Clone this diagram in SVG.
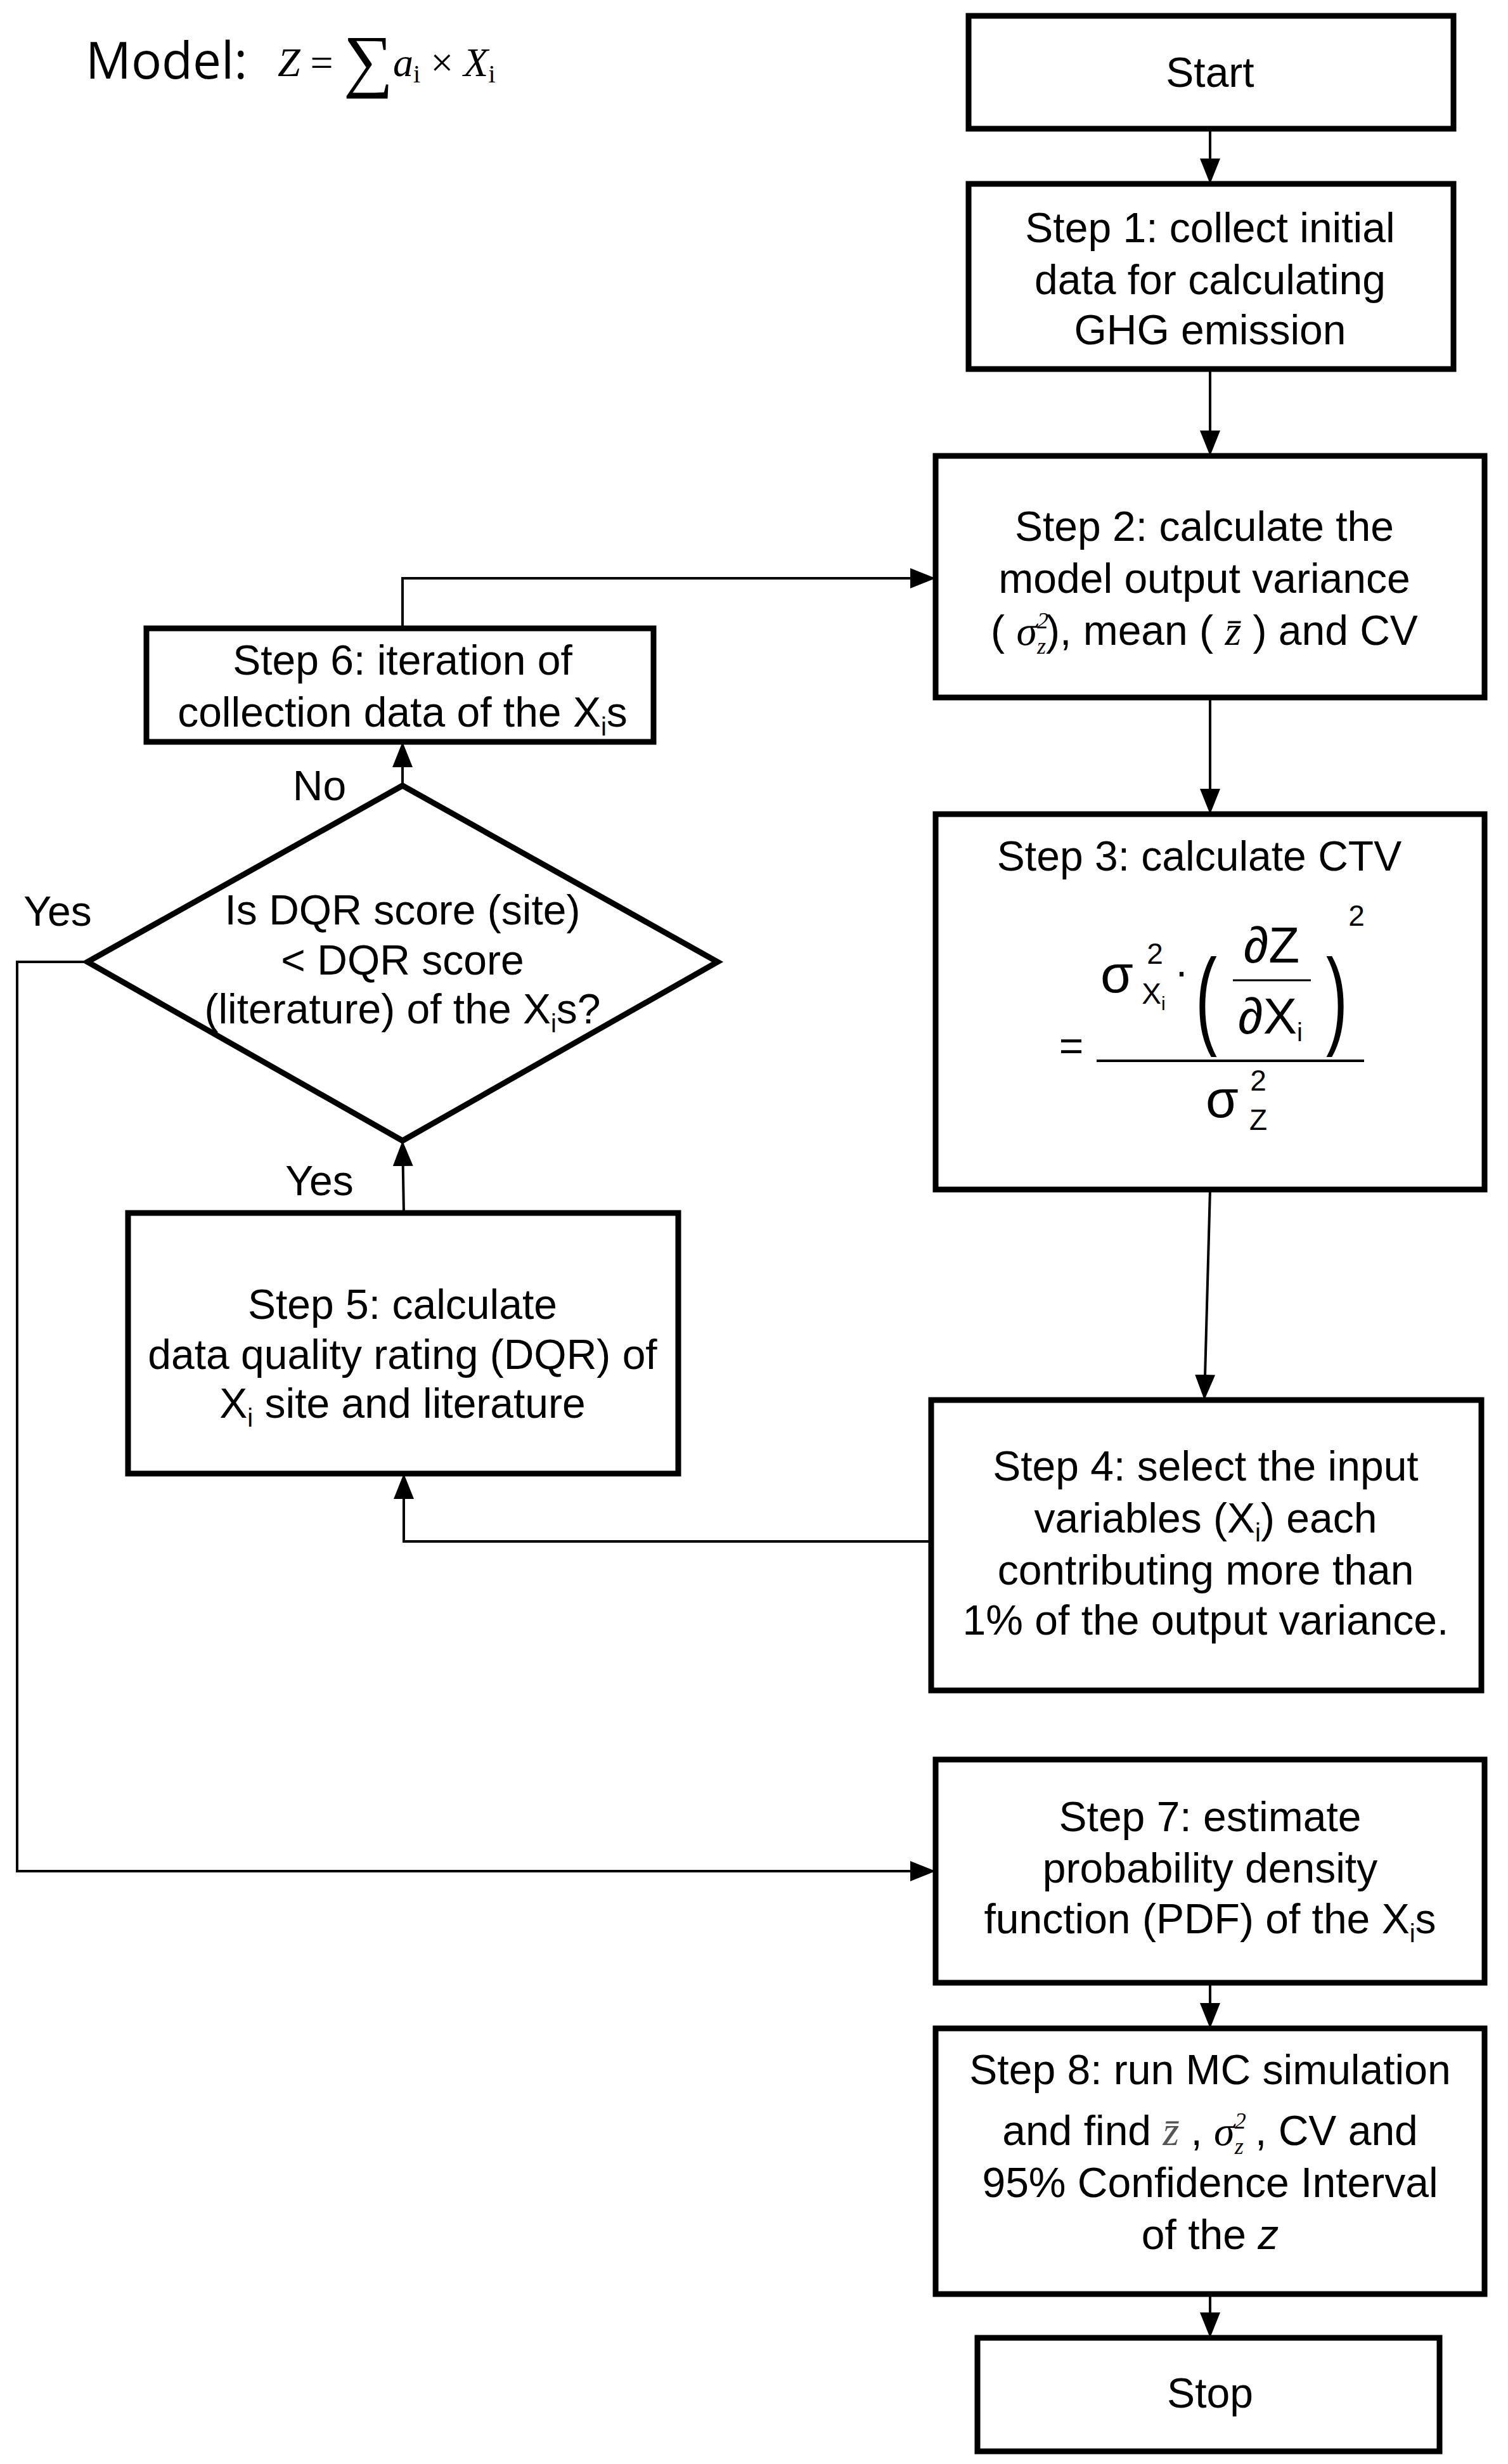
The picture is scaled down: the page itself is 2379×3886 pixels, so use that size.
<svg xmlns="http://www.w3.org/2000/svg" width="2379" height="3886" viewBox="0 0 2379 3886">
<style>
.box{fill:#fff;stroke:#000;stroke-width:9}
.t{font-family:"Liberation Sans",Arial,sans-serif;font-size:66px;text-anchor:middle;fill:#000}
.m{font-family:"Liberation Serif","Times New Roman",serif;font-style:italic}
.c{fill:none;stroke:#000;stroke-width:4}
</style>
<defs>
<marker id="a" viewBox="0 0 40 32" refX="40" refY="16" markerWidth="40" markerHeight="32" markerUnits="userSpaceOnUse" orient="auto"><path d="M0,0 L40,16 L0,32 z" fill="#000"/></marker>
</defs>
<rect width="2379" height="3886" fill="#fff"/>
<g id="model">
<text x="135" y="124" font-family="'Open Sans','Liberation Sans',sans-serif" font-size="80">Model:</text>
<text x="438" y="120" font-family="'Liberation Serif',serif" font-size="64"><tspan font-style="italic">Z</tspan> = <tspan font-size="110" dy="12">∑</tspan><tspan font-style="italic" dy="-12">a</tspan><tspan font-size="40" dy="10">i</tspan><tspan dy="-10"> × </tspan><tspan font-style="italic">X</tspan><tspan font-size="40" dy="10">i</tspan></text>
</g>
<g id="connectors">
<line class="c" x1="1909" y1="203" x2="1909" y2="290" marker-end="url(#a)"/>
<line class="c" x1="1909" y1="582" x2="1909" y2="719" marker-end="url(#a)"/>
<line class="c" x1="1909" y1="1100" x2="1909" y2="1284" marker-end="url(#a)"/>
<line class="c" x1="1909" y1="1876" x2="1900" y2="2208" marker-end="url(#a)"/>
<polyline class="c" points="635,991 635,912 1476,912" marker-end="url(#a)"/>
<line class="c" x1="635" y1="1239" x2="635" y2="1170" marker-end="url(#a)"/>
<line class="c" x1="637" y1="1913" x2="635" y2="1799" marker-end="url(#a)"/>
<polyline class="c" points="1469,2431 637,2431 637,2324" marker-end="url(#a)"/>
<polyline class="c" points="138,1517 27,1517 27,2951 1476,2951" marker-end="url(#a)"/>
<line class="c" x1="1909" y1="3127" x2="1909" y2="3199" marker-end="url(#a)"/>
<line class="c" x1="1909" y1="3618" x2="1909" y2="3687" marker-end="url(#a)"/>
<text class="t" x="504" y="1262">No</text>
<text class="t" x="504" y="1885">Yes</text>
<text class="t" x="91" y="1460">Yes</text>
</g>
<g id="start"><rect class="box" x="1528" y="25" width="765" height="178"/><text class="t" x="1909" y="137">Start</text></g>
<g id="step1"><rect class="box" x="1528" y="290" width="765" height="292"/>
<text class="t" x="1909" y="382">Step 1: collect initial</text><text class="t" x="1909" y="464">data for calculating</text><text class="t" x="1909" y="543">GHG emission</text></g>
<g id="step2"><rect class="box" x="1476" y="719" width="866" height="381"/>
<text class="t" x="1900" y="853">Step 2: calculate the</text><text class="t" x="1900" y="935">model output variance</text>
<text class="t" x="1900" y="1017">(  <tspan class="m">σ</tspan><tspan class="m" font-size="36" dy="-26">2</tspan><tspan class="m" font-size="36" dx="-18" dy="40">z</tspan><tspan dy="-14">), mean ( </tspan><tspan class="m">z̄</tspan> ) and CV</text></g>
<g id="step6"><rect class="box" x="231" y="991" width="800" height="179"/>
<text class="t" x="635" y="1064">Step 6: iteration of</text><text class="t" x="635" y="1146">collection data of the X<tspan font-size="40" dy="14">i</tspan><tspan dy="-14">s</tspan></text></g>
<g id="decision"><polygon class="box" points="635,1239 1132,1517 635,1799 138,1517"/>
<text class="t" x="635" y="1458">Is DQR score (site)</text><text class="t" x="635" y="1537">&lt;  DQR score</text>
<text class="t" x="635" y="1614">(literature) of the X<tspan font-size="40" dy="14">i</tspan><tspan dy="-14">s?</tspan></text></g>
<g id="step3"><rect class="box" x="1476" y="1284" width="866" height="592"/>
<text class="t" x="1892" y="1373">Step 3: calculate CTV</text>
<text class="t" x="1762" y="1565" style="font-size:84px">σ</text>
<text class="t" x="1822" y="1520" style="font-size:46px">2</text>
<text class="t" x="1820" y="1583" style="font-size:46px">X<tspan style="font-size:30px" dy="10">i</tspan></text>
<text class="t" x="1864" y="1555">·</text>
<text x="1886" y="1632" transform="translate(1886,1632) scale(0.6,1) translate(-1886,-1632)" font-family="'Liberation Sans',sans-serif" font-size="170" font-weight="300">(</text>
<text x="2092" y="1632" transform="translate(2092,1632) scale(0.6,1) translate(-2092,-1632)" font-family="'Liberation Sans',sans-serif" font-size="170" font-weight="300">)</text>
<text class="t" x="2140" y="1460" style="font-size:46px">2</text>
<text class="t" x="2006" y="1518" style="font-size:80px">∂Z</text>
<line x1="1945" y1="1546" x2="2068" y2="1546" stroke="#000" stroke-width="3"/>
<text class="t" x="2004" y="1630" style="font-size:80px">∂X<tspan style="font-size:40px" dy="12">i</tspan></text>
<text class="t" x="1690" y="1672">=</text>
<line x1="1730" y1="1673" x2="2152" y2="1673" stroke="#000" stroke-width="4"/>
<text class="t" x="1928" y="1762" style="font-size:84px">σ</text>
<text class="t" x="1985" y="1720" style="font-size:46px">2</text>
<text class="t" x="1985" y="1782" style="font-size:46px">Z</text></g>
<g id="step5"><rect class="box" x="202" y="1913" width="868" height="411"/>
<text class="t" x="635" y="2080">Step 5: calculate</text><text class="t" x="635" y="2159">data quality rating (DQR) of</text>
<text class="t" x="635" y="2236">X<tspan font-size="40" dy="14">i</tspan><tspan dy="-14"> site and literature</tspan></text></g>
<g id="step4"><rect class="box" x="1469" y="2208" width="868" height="458"/>
<text class="t" x="1902" y="2335">Step 4: select the input</text>
<text class="t" x="1902" y="2417">variables (X<tspan font-size="40" dy="14">i</tspan><tspan dy="-14">) each</tspan></text>
<text class="t" x="1902" y="2499">contributing more than</text><text class="t" x="1902" y="2578">1% of the output variance.</text></g>
<g id="step7"><rect class="box" x="1476" y="2775" width="866" height="352"/>
<text class="t" x="1909" y="2888">Step 7: estimate</text><text class="t" x="1909" y="2969">probability density</text>
<text class="t" x="1909" y="3049">function (PDF) of the  X<tspan font-size="40" dy="14">i</tspan><tspan dy="-14">s</tspan></text></g>
<g id="step8"><rect class="box" x="1476" y="3199" width="866" height="419"/>
<text class="t" x="1909" y="3287">Step 8: run MC simulation</text>
<text class="t" x="1909" y="3383">and find <tspan class="m" fill="#555">z̄</tspan> , <tspan class="m">σ</tspan><tspan class="m" font-size="36" dy="-26">2</tspan><tspan class="m" font-size="36" dx="-18" dy="40">z</tspan><tspan dy="-14"> , CV and</tspan></text>
<text class="t" x="1909" y="3465">95% Confidence Interval</text>
<text class="t" x="1909" y="3547">of the <tspan font-style="italic">z</tspan></text></g>
<g id="stop"><rect class="box" x="1542" y="3687" width="729" height="179"/><text class="t" x="1909" y="3797">Stop</text></g>
</svg>
